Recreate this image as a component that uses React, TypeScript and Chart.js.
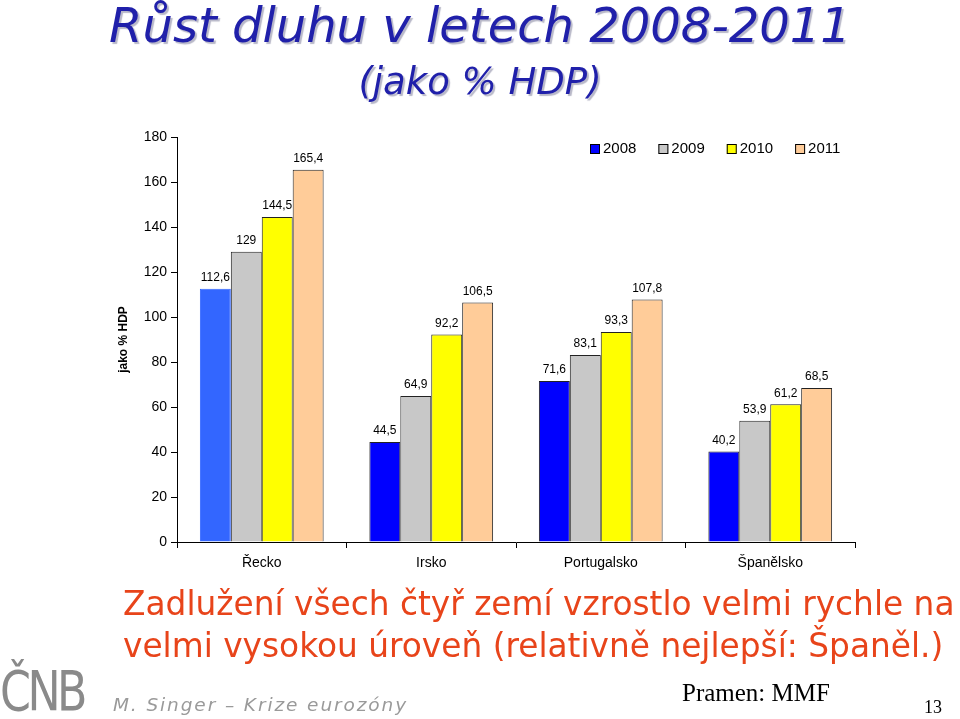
import React, { useEffect, useRef } from "react";
import { Chart, registerables } from "chart.js";

Chart.register(...registerables);

const categories = ["Řecko", "Irsko", "Portugalsko", "Španělsko"];
const years = ["2008", "2009", "2010", "2011"];
const values2008 = [112.6, 44.5, 71.6, 40.2];
const values2009 = [129, 64.9, 83.1, 53.9];
const values2010 = [144.5, 92.2, 93.3, 61.2];
const values2011 = [165.4, 106.5, 107.8, 68.5];
const yTicks = [0, 20, 40, 60, 80, 100, 120, 140, 160, 180];

const colors2008 = ["#3366FF", "#0000FF", "#0000FF", "#0000FF"];
const seriesColors = ["#0000FF", "#C8C8C8", "#FFFF00", "#FFCC99"];

const fmt = (v: number) => String(v).replace(".", ",");

const labelPlugin = {
  id: "valueLabels",
  afterDatasetsDraw(chart: any) {
    const ctx = chart.ctx;
    ctx.save();
    ctx.font = "12px 'Liberation Sans', Arial, sans-serif";
    ctx.fillStyle = "#000";
    ctx.textAlign = "center";
    ctx.textBaseline = "bottom";
    chart.data.datasets.forEach((ds: any, di: number) => {
      const meta = chart.getDatasetMeta(di);
      meta.data.forEach((bar: any, i: number) => {
        ctx.fillText(fmt(ds.data[i]), bar.x, bar.y - 5);
      });
    });
    ctx.restore();
  },
};

const legendPlugin = {
  id: "customLegend",
  afterDraw(chart: any) {
    const ctx = chart.ctx;
    ctx.save();
    ctx.font = "15px 'Liberation Sans', Arial, sans-serif";
    ctx.textBaseline = "middle";
    ctx.textAlign = "left";
    let x = 590;
    const y = 149;
    years.forEach((yr, i) => {
      ctx.fillStyle = seriesColors[i];
      ctx.fillRect(x, y - 5, 10, 10);
      ctx.strokeStyle = "#000";
      ctx.lineWidth = 1;
      ctx.strokeRect(x + 0.5, y - 4.5, 9, 9);
      ctx.fillStyle = "#000";
      ctx.fillText(yr, x + 13, y);
      x += 13 + ctx.measureText(yr).width + 22;
    });
    ctx.restore();
  },
};

export default function App() {
  const ref = useRef<HTMLCanvasElement>(null);
  useEffect(() => {
    document.body.style.margin = "0";
    const chart = new Chart(ref.current!, {
      type: "bar",
      data: {
        labels: categories,
        datasets: [
          {
            label: years[0],
            data: values2008,
            backgroundColor: colors2008,
            borderColor: ["#3366FF", "#222", "#222", "#222"],
            borderWidth: 1,
          },
          { label: years[1], data: values2009, backgroundColor: seriesColors[1], borderColor: "#222", borderWidth: 1 },
          { label: years[2], data: values2010, backgroundColor: seriesColors[2], borderColor: "#222", borderWidth: 1 },
          { label: years[3], data: values2011, backgroundColor: seriesColors[3], borderColor: "#222", borderWidth: 1 },
        ],
      },
      options: {
        animation: false,
        responsive: false,
        maintainAspectRatio: false,
        datasets: { bar: { categoryPercentage: 0.73, barPercentage: 1 } },
        layout: { padding: { left: 112, right: 105, top: 137, bottom: 137 } },
        plugins: { legend: { display: false }, tooltip: { enabled: false } },
        scales: {
          x: {
            grid: { display: true, drawOnChartArea: false, offset: true, tickLength: 6, color: "#000" },
            border: { color: "#000", width: 1 },
            ticks: { color: "#000", font: { family: "'Liberation Sans', Arial", size: 14 }, padding: 7 },
            afterFit: (s: any) => { s.height = 40; },
          },
          y: {
            min: 0,
            max: 180,
            afterBuildTicks: (s: any) => { s.ticks = yTicks.map((v) => ({ value: v })); },
            grid: { display: true, drawOnChartArea: false, tickLength: 6, color: "#000" },
            border: { color: "#000", width: 1 },
            ticks: { color: "#000", font: { family: "'Liberation Sans', Arial", size: 14 }, padding: 4 },
            title: {
              display: true,
              text: "jako % HDP",
              color: "#000",
              font: { family: "'Liberation Sans', Arial", size: 12, weight: "bold" },
            },
            afterFit: (s: any) => { s.width = 65; },
          },
        },
      },
      plugins: [labelPlugin, legendPlugin],
    });
    return () => chart.destroy();
  }, []);

  const abs = (o: React.CSSProperties): React.CSSProperties => ({ position: "absolute", margin: 0, whiteSpace: "nowrap", ...o });

  return (
    <div style={{ position: "relative", width: 960, height: 719, background: "#fff", overflow: "hidden" }}>
      <canvas ref={ref} width={960} height={719} style={{ position: "absolute", left: 0, top: 0, width: 960, height: 719 }} />
      <div style={abs({ left: 0, width: 960, top: -3, textAlign: "center", fontFamily: "'DejaVu Sans', sans-serif", fontStyle: "italic", fontSize: 48, color: "#2020AA", textShadow: "2px 2px 1px #b8b8c8" })}>
        Růst dluhu v letech 2008-2011
      </div>
      <div style={abs({ left: 0, width: 960, top: 60, textAlign: "center", fontFamily: "'DejaVu Sans', sans-serif", fontStyle: "italic", fontSize: 37, color: "#2020AA", textShadow: "2px 2px 1px #b8b8c8" })}>
        (jako % HDP)
      </div>
      <div style={abs({ left: 123, top: 583, fontFamily: "'DejaVu Sans', sans-serif", fontSize: 32.8, lineHeight: "42px", color: "#E8441A" })}>
        Zadlužení všech čtyř zemí vzrostlo velmi rychle na
        <br />
        velmi vysokou úroveň (relativně nejlepší: Španěl.)
      </div>
      <div style={abs({ left: 0, top: 658, fontFamily: "'Liberation Sans Narrow', 'DejaVu Sans Condensed', sans-serif", fontSize: 56, color: "#8a8a8a", letterSpacing: -4, transform: "scaleX(0.88)", transformOrigin: "0 0" })}>
        ČNB
      </div>
      <div style={abs({ left: 113, top: 694, fontFamily: "'DejaVu Sans', sans-serif", fontStyle: "italic", fontSize: 18.5, letterSpacing: 1.9, color: "#9a9a9a" })}>
        M. Singer – Krize eurozóny
      </div>
      <div style={abs({ left: 682, top: 679, fontFamily: "'Liberation Serif', serif", fontSize: 25, color: "#000" })}>
        Pramen: MMF
      </div>
      <div style={abs({ left: 924, top: 697, fontFamily: "'Liberation Serif', serif", fontSize: 18, color: "#000" })}>
        13
      </div>
    </div>
  );
}
